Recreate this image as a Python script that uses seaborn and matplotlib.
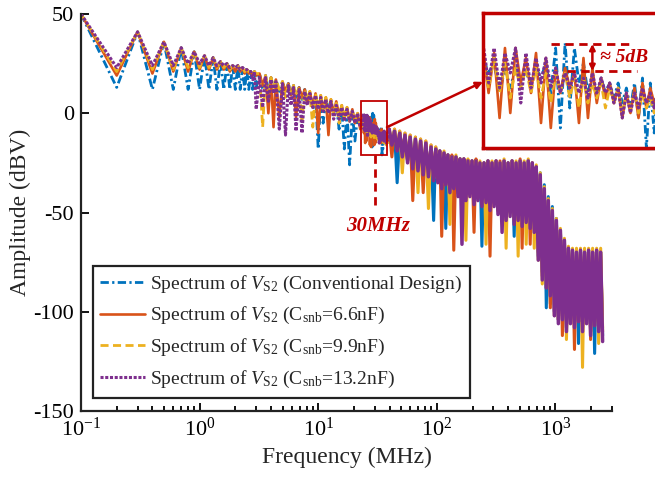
import matplotlib
matplotlib.use("Agg")
import matplotlib.pyplot as plt
import seaborn as sns
from matplotlib.patches import Rectangle, ConnectionPatch
from matplotlib.lines import Line2D

# Harmonic frequencies of the switching-node spectrum (MHz)
freq_mhz = [
    0.1, 0.2, 0.3, 0.4, 0.5, 0.6, 0.7, 0.8, 0.9, 1.0, 1.1, 1.2, 1.3, 1.4, 1.5,
    1.6, 1.7, 1.8, 1.9, 2.0, 2.1, 2.2, 2.3, 2.4, 2.5, 2.6, 2.7, 2.8, 2.9, 3.0,
    3.2, 3.4, 3.6, 3.8, 4.0, 4.2, 4.4, 4.7, 5.0, 5.3, 5.6, 5.9, 6.2, 6.5, 6.9,
    7.3, 7.7, 8.1, 8.5, 9.0, 9.5, 10, 10.5, 11, 11.6, 12.2, 12.8, 13.5, 14.2,
    15, 15.8, 16.6, 17.5, 18.4, 19.4, 20.4, 21.5, 22.6,
    24.0, 24.3, 24.6, 24.9, 25.2, 25.5, 25.8, 26.1, 26.4, 26.7, 27.0, 27.3,
    27.6, 27.9, 28.2, 28.5, 28.8, 29.1, 29.4, 29.7, 30.0, 30.3, 30.6, 30.9,
    31.2, 31.5, 31.8, 32.1, 32.4, 32.7, 33.0, 33.3, 33.6, 33.9, 34.2, 34.5,
    34.8, 35.1, 35.4, 35.7, 36.0, 36.3, 36.6, 36.9, 37.2, 37.5, 37.8, 38.1,
    39.7,
    41.8, 44, 46.3, 48.7, 51.2, 53.9, 56.7, 59.6, 62.7, 66, 69.4, 73, 76.8,
    80.8, 85, 89.4, 94, 98,
    102, 106, 110, 115, 119, 124, 129, 134, 139, 145, 151, 157, 163, 169, 176,
    183, 190, 198, 206, 214, 222, 231, 240, 250, 260, 270, 281, 292, 304, 316,
    328, 341, 355, 369, 384, 399, 415, 431, 449, 466, 485, 504, 524, 545, 567,
    590, 613, 638, 663, 689, 717, 745, 775, 806, 838, 871, 906, 942, 980, 1019,
    1059, 1102, 1145, 1191, 1239, 1288, 1339, 1393, 1448, 1506, 1566, 1628,
    1693, 1761, 1831, 1904, 1980, 2059, 2141, 2226, 2315, 2407, 2500,
]

# Amplitude (dBV) of V_S2, conventional design
amp_conventional = [
    50, 13, 41, 12, 36, 12, 33, 12, 31, 12, 29, 12, 28, 12, 26, 12, 25, 12, 24, 12,
    24, 12, 23, 12, 22, 12, 21, 12, 21, 13,
    20, 12, 19, 12, 18, 12, 17, 11, 16, 10, 15, 9, 14, 8, 13, 7, 12, 5, 11, 2,
    9, -18, 8, -5, 7, 2, 6, 0, 5, -8, 3, -18, 1, -26, 0, -14, -1, -6,
    -3, -6, -4, -10, -5, -9, -5, -7, -6, -8, -5, -7, -4, -10, -1, -17, 0, -13,
    -1, -8, -4, -10, -6, -11, -7, -10, -8, -11, -8, -12, -9, -13, -8, -15, -7, -21,
    -8, -18, -9, -13, -10, -14, -11, -15, -11, -16, -12, -16,
    -9,
    -14, -9, -35, -10, -20, -11, -24, -12, -27, -13, -28, -14, -30, -15, -31, -17,
    -54, -18,
    -33, -19, -36, -20, -58, -21, -38, -22, -36, -22, -40, -23, -42, -23, -42, -24,
    -40, -24, -44, -24, -42, -25, -67, -25, -43, -24, -47, -25, -45, -24, -49, -25,
    -50, -24, -52, -25, -50, -24, -62, -25, -52, -24, -55, -25, -53, -24, -56, -25,
    -58, -27, -72, -30, -80, -36, -98, -42, -96, -47, -100, -53, -104, -59, -102, -64,
    -108, -68, -104, -69, -106, -70, -116, -69, -108, -70, -104, -69, -110, -70,
    -121, -69, -108, -70, -112,
]

# Amplitude (dBV) of V_S2, C_snb = 6.6 nF
amp_csnb_6p6 = [
    50, 19, 41, 20, 36, 21, 33, 21, 31, 22, 29, 22, 28, 22, 26, 22, 25, 21, 24, 21,
    24, 21, 23, 20, 22, 20, 21, 19, 21, 19,
    20, 14, 19, 0, 18, -7, 17, -2, 16, 11, 15, 9, 14, -2, 13, 8, 12, 5, 11, 3,
    10, -10, 9, 2, 8, -11, 7, 0, 6, -1, 4, -3, 3, -4, 2, -5, 0, -8,
    -1, -10, -2, -15, -1, -14, -1, -8, -3, -10, -2, -16, -3, -17, -5, -10, -5, -9,
    -6, -16, -3, -15, -5, -12, -7, -11, -8, -12, -9, -15, -10, -14, -9, -15, -8, -13,
    -9, -12, -10, -13, -9, -14, -10, -15, -11, -14, -11, -15,
    -8,
    -22, -8, -18, -9, -21, -10, -24, -11, -44, -12, -28, -13, -40, -14, -31, -16,
    -33, -17,
    -33, -19, -62, -20, -34, -21, -38, -21, -69, -22, -40, -23, -42, -23, -42, -24,
    -40, -24, -60, -23, -42, -25, -45, -25, -43, -24, -72, -25, -45, -24, -49, -24,
    -52, -24, -52, -25, -50, -24, -54, -25, -52, -23, -68, -25, -53, -24, -66, -25,
    -58, -27, -70, -31, -82, -38, -88, -44, -98, -49, -102, -54, -104, -59, -112, -64,
    -108, -68, -104, -69, -119, -70, -104, -69, -108, -70, -104, -69, -114, -70,
    -106, -69, -108, -70, -110,
]

# Amplitude (dBV) of V_S2, C_snb = 9.9 nF
amp_csnb_9p9 = [
    50, 21, 41, 22, 36, 22, 33, 23, 31, 23, 29, 23, 28, 23, 26, 23, 25, 22, 24, 22,
    24, 22, 23, 21, 22, 21, 21, 20, 21, 20,
    20, -7, 19, 12, 18, 13, 17, 12, 16, 8, 15, 10, 14, 9, 13, -4, 12, 7, 11, -7,
    10, 3, 9, 2, 8, 1, 7, -1, 5, -5, 4, -2, 3, -4, 1, -3, 0, -6,
    -4, -9, -3, -10, -4, -11, -5, -9, -5, -10, -5, -11, -6, -12, -6, -10, -6, -11,
    -7, -13, -7, -12, -8, -11, -8, -13, -9, -12, -9, -14, -10, -13, -10, -14, -10, -13,
    -11, -14, -10, -15, -11, -14, -11, -15, -12, -16, -12, -15,
    -8,
    -15, -8, -18, -9, -30, -10, -24, -11, -27, -12, -40, -13, -30, -14, -48, -16,
    -33, -17,
    -33, -19, -36, -19, -34, -21, -56, -22, -36, -21, -40, -23, -42, -23, -64, -23,
    -40, -24, -44, -24, -42, -24, -45, -25, -66, -24, -47, -24, -45, -24, -49, -25,
    -50, -23, -68, -25, -50, -24, -54, -24, -72, -24, -55, -24, -66, -23, -56, -25,
    -68, -26, -74, -30, -86, -37, -86, -43, -92, -48, -98, -53, -104, -58, -102, -63,
    -114, -67, -104, -68, -106, -68, -104, -68, -128, -68, -104, -68, -110, -68,
    -106, -68, -116, -68, -108,
]

# Amplitude (dBV) of V_S2, C_snb = 13.2 nF
amp_csnb_13p2 = [
    50, 23, 41, 24, 36, 24, 33, 25, 31, 25, 29, 24, 28, 24, 26, 24, 25, 23, 24, 23,
    24, 22, 23, 22, 22, 21, 21, 17, 21, 2,
    18, 3, 18, 6, 17, 10, 16, -8, 15, -11, 14, 4, 13, -9, 12, -10, 11, 4, 10, 3,
    9, 2, 8, 1, 7, 0, 6, -3, 4, -3, 3, -4, 2, -4, 1, -5, 0, -7,
    0, -8, -1, -9, -2, -6, -1, -12, -2, -9, -3, -8, -3, -9, -5, -10, -6, -9,
    -6, -10, -7, -11, -6, -10, -7, -10, -8, -12, -9, -15, -10, -14, -10, -13, -9, -12,
    -10, -13, -9, -14, -9, -13, -10, -14, -10, -15, -11, -14,
    -8,
    -16, -9, -19, -10, -22, -11, -25, -12, -28, -13, -29, -14, -31, -15, -32, -17,
    -34, -18,
    -35, -19, -38, -20, -36, -21, -40, -22, -38, -22, -42, -23, -66, -23, -44, -24,
    -42, -24, -46, -24, -44, -25, -47, -25, -45, -24, -49, -25, -47, -24, -51, -25,
    -60, -24, -54, -25, -52, -24, -56, -25, -54, -24, -57, -25, -55, -24, -58, -25,
    -60, -27, -74, -31, -84, -38, -88, -44, -92, -49, -102, -54, -106, -59, -104, -64,
    -110, -68, -106, -69, -108, -70, -105, -69, -110, -70, -106, -69, -112, -70,
    -107, -69, -110, -70, -115,
]

series_labels = [
    r"Spectrum of $V_{\mathrm{S2}}$ (Conventional Design)",
    r"Spectrum of $V_{\mathrm{S2}}$ (C$_{\mathrm{snb}}$=6.6nF)",
    r"Spectrum of $V_{\mathrm{S2}}$ (C$_{\mathrm{snb}}$=9.9nF)",
    r"Spectrum of $V_{\mathrm{S2}}$ (C$_{\mathrm{snb}}$=13.2nF)",
]
series_amps = [amp_conventional, amp_csnb_6p6, amp_csnb_9p9, amp_csnb_13p2]

x_ticks = [0.1, 1, 10, 100, 1000]
y_ticks = [-150, -100, -50, 0, 50]

sns.set_style("ticks")
plt.rcParams["font.family"] = ["Liberation Serif", "DejaVu Serif"]
plt.rcParams["mathtext.fontset"] = "custom"
plt.rcParams["mathtext.rm"] = "Liberation Serif"
plt.rcParams["mathtext.it"] = "Liberation Serif:italic"
plt.rcParams["mathtext.bf"] = "Liberation Serif:bold"
plt.rcParams["axes.unicode_minus"] = False

colors = ["#0072BD", "#D95319", "#EDB120", "#7E2F8E"]
line_styles = [
    dict(color=colors[0], linestyle=(0, (3, 1.2, 0.8, 1.2)), linewidth=2.0),
    dict(color=colors[1], linestyle="-", linewidth=1.9),
    dict(color=colors[2], linestyle=(0, (2.9, 1.6)), linewidth=2.0),
    dict(color=colors[3], linestyle=(0, (1, 0.55)), linewidth=2.2),
]
# above ~40 MHz the harmonics are so tightly packed that the traces merge
dense_widths = [2.2, 2.2, 2.2, 2.5]
red = "#C00000"

split = freq_mhz.index(39.7)


def draw_spectra(target):
    for amps, st, c, lw in zip(series_amps, line_styles, colors, dense_widths):
        sns.lineplot(x=freq_mhz[:split + 1], y=amps[:split + 1], ax=target,
                     estimator=None, sort=False, legend=False, **st)
        sns.lineplot(x=freq_mhz[split:], y=amps[split:], ax=target,
                     estimator=None, sort=False, legend=False, color=c,
                     linestyle="-", linewidth=lw)


W, H = 655, 479
fig = plt.figure(figsize=(W / 100, H / 100), dpi=100)
ax = fig.add_axes([81 / W, 1 - 411 / H, 531 / W, 397 / H])
ax.set_xscale("log")
draw_spectra(ax)

ax.set_xlim(0.1, 3000)
ax.set_ylim(-150, 50)
ax.set_xticks(x_ticks)
ax.set_yticks(y_ticks)
ax.set_xlabel("Frequency (MHz)", fontsize=17, labelpad=4)
ax.set_ylabel("Amplitude (dBV)", fontsize=17, labelpad=2)
ax.tick_params(axis="both", which="both", direction="in", labelsize=16,
               width=1.3, colors="black")
ax.tick_params(axis="both", which="major", length=6, pad=5)
ax.tick_params(axis="x", which="minor", length=3.5)
for side in ("top", "right"):
    ax.spines[side].set_visible(False)
for side in ("left", "bottom"):
    ax.spines[side].set_linewidth(1.6)
    ax.spines[side].set_color("#222222")

handles = [Line2D([], [], **st) for st in line_styles]
leg = ax.legend(handles, series_labels, loc="lower left",
                bbox_to_anchor=(0.022, 0.033), borderaxespad=0,
                fontsize=14, frameon=True, fancybox=False, framealpha=1,
                edgecolor="#222222", handlelength=2.3, handletextpad=0.25,
                borderpad=0.4, labelspacing=0.55)
leg.get_frame().set_linewidth(1.6)

# zoom window around 30 MHz
ax.add_patch(Rectangle((23, -21), 15, 27, fill=False, edgecolor=red,
                       linewidth=1.3, zorder=6))
ax.plot([30, 30], [-21, -47], color=red, linestyle=(0, (3, 2)),
        linewidth=2, zorder=6)
ax.text(32, -57, "30MHz", color=red, fontsize=15, fontweight="bold",
        fontstyle="italic", ha="center", va="center", zorder=6)

# magnified inset (extends past the right edge of the figure)
ins_rect = [483 / W, 1 - 148 / H, 230 / W, 135 / H]
shadow = Rectangle((ins_rect[0] + 3 / W, ins_rect[1] - 3 / H), ins_rect[2],
                   ins_rect[3], transform=fig.transFigure, facecolor="0.55",
                   alpha=0.45, edgecolor="none", zorder=2)
fig.add_artist(shadow)
axins = fig.add_axes(ins_rect)
axins.set_zorder(3)
axins.set_xscale("log")
draw_spectra(axins)
axins.set_xlim(24, 40)
axins.set_ylim(-21, 6)
axins.set_xlabel("")
axins.set_ylabel("")
axins.tick_params(which="both", bottom=False, left=False,
                  labelbottom=False, labelleft=False)
for sp in axins.spines.values():
    sp.set_visible(True)
    sp.set_color(red)
    sp.set_linewidth(2.5)

axins.plot([27.9, 33.6], [-0.2, -0.2], color=red, linestyle=(0, (3, 2)),
           linewidth=2, zorder=6)
axins.plot([28.9, 33.8], [-5.6, -5.6], color=red, linestyle=(0, (3, 2)),
           linewidth=2, zorder=6)
axins.annotate("", xy=(30.6, -0.2), xytext=(30.6, -5.6),
               arrowprops=dict(arrowstyle="<|-|>", color=red, lw=1.8,
                               mutation_scale=8, shrinkA=0, shrinkB=0),
               zorder=6)
axins.text(31.1, -3.0, "\u2248 5dB", color=red, fontsize=14,
           fontweight="bold", fontstyle="italic", ha="left", va="center",
           zorder=6)

con = ConnectionPatch(xyA=(38, -7), coordsA=ax.transData,
                      xyB=(0, 0.49), coordsB=axins.transAxes,
                      arrowstyle="-|>", color=red, lw=1.8, mutation_scale=10)
con.set_zorder(4)
fig.add_artist(con)

fig.savefig("out.png", dpi=100)
